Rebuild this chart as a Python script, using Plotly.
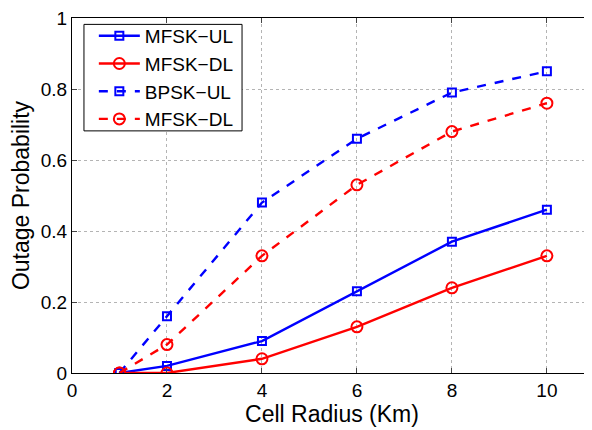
import plotly.graph_objects as go

radius = [1, 2, 4, 6, 8, 10]
mfsk_ul = [0.0, 0.02, 0.09, 0.23, 0.37, 0.46]
mfsk_dl = [0.0, 0.0, 0.04, 0.13, 0.24, 0.33]
bpsk_ul = [0.0, 0.16, 0.48, 0.66, 0.79, 0.85]
mfsk_dl2 = [0.0, 0.08, 0.33, 0.53, 0.68, 0.76]

x_ticks = [0, 2, 4, 6, 8, 10]
y_ticks = [0, 0.2, 0.4, 0.6, 0.8, 1]
y_labels = ["0", "0.2", "0.4", "0.6", "0.8", "1"]

series = [
    ("MFSK\u2212UL", mfsk_ul, "#0000ff", "solid", "square-open", 8),
    ("MFSK\u2212DL", mfsk_dl, "#ff0000", "solid", "circle-open", 11),
    ("BPSK\u2212UL", bpsk_ul, "#0000ff", "dash", "square-open", 8),
    ("MFSK\u2212DL", mfsk_dl2, "#ff0000", "dash", "circle-open", 11),
]

fig = go.Figure()
for name, vals, col, dash, sym, sz in series:
    fig.add_trace(go.Scatter(
        x=radius, y=vals, name=name, mode="lines+markers",
        line=dict(color=col, width=2.4, dash=dash),
        marker=dict(symbol=sym, size=sz, color=col, line=dict(width=2, color=col)),
    ))

# legend frame
fig.add_shape(type="rect", xref="paper", yref="paper",
              x0=0.023, x1=0.327, y0=0.682, y1=0.982,
              line=dict(color="black", width=1), fillcolor="white", layer="above")

font = "Liberation Sans, Arial, Helvetica, sans-serif"
fig.update_layout(
    width=584, height=422,
    margin=dict(l=64, r=0, t=10, b=57),
    paper_bgcolor="white", plot_bgcolor="white",
    font=dict(family=font, size=19, color="black"),
    showlegend=True,
    legend=dict(x=0.042, y=1.003, xanchor="left", yanchor="top",
                borderwidth=0, bgcolor="rgba(0,0,0,0)",
                font=dict(size=19), tracegroupgap=0, itemwidth=41),
    xaxis=dict(range=[0, 10.95], tickvals=x_ticks, ticks="inside", ticklen=5,
               showline=True, linecolor="black", linewidth=1, mirror="ticks",
               showgrid=True, gridcolor="#b4b4b4", griddash="dot", gridwidth=1,
               zeroline=False, automargin=False, ticklabeloverflow="allow",
               title=dict(text="Cell Radius (Km)", standoff=2)),
    yaxis=dict(range=[0, 1], tickvals=y_ticks, ticktext=y_labels, ticks="inside", ticklen=5,
               showline=True, linecolor="black", linewidth=1,
               showgrid=True, gridcolor="#b4b4b4", griddash="dot", gridwidth=1,
               zeroline=False, automargin=False, ticklabeloverflow="allow",
               title=dict(text="Outage Probability", standoff=10)),
)
fig.write_html("out.html")
